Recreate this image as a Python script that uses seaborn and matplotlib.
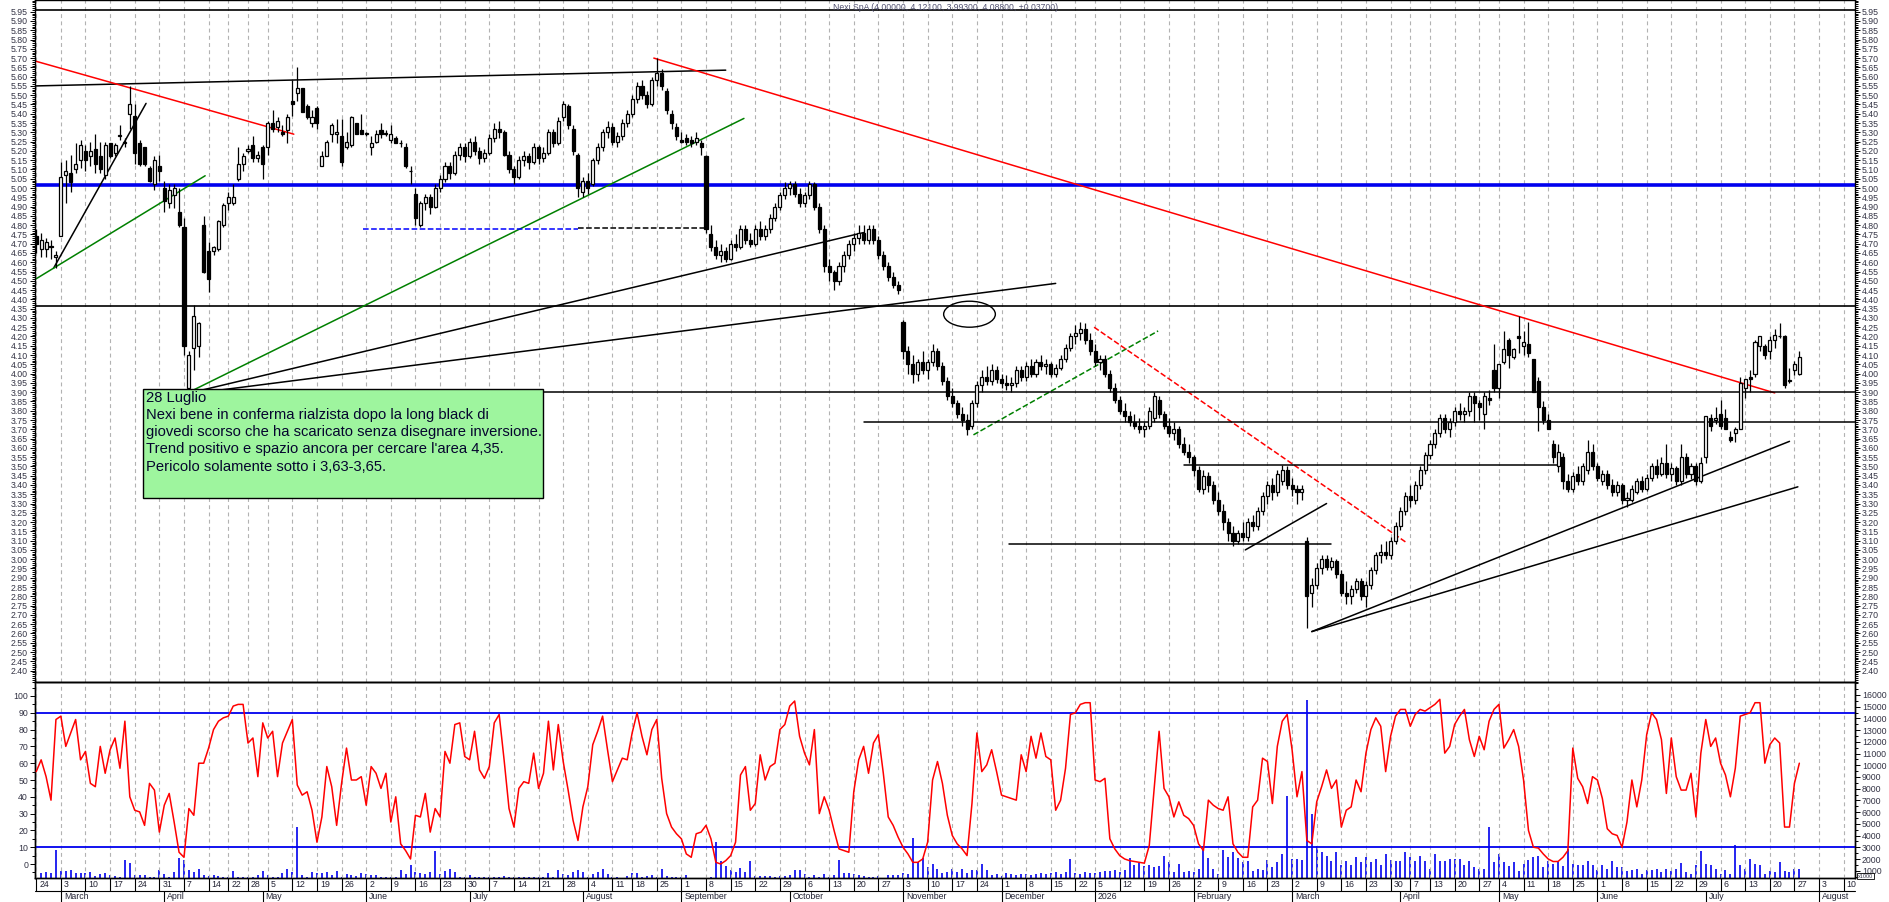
import numpy as np
import pandas as pd
import seaborn as sns
import matplotlib.pyplot as plt
import matplotlib.transforms as mtransforms
from matplotlib.patches import Rectangle, Ellipse
from matplotlib.ticker import FixedLocator, FormatStrFormatter

# Nexi SpA daily candles, 24 Feb 2025 -> 28 Jul 2026
opens = [
    4.74, 4.67, 4.67, 4.69, 4.63, 4.74, 5.07, 5.08, 5.10, 5.15,
    5.20, 5.17, 5.21, 5.17, 5.07, 5.24, 5.19, 5.28, 5.24, 5.40,
    5.39, 5.24, 5.22, 5.11, 5.02, 5.12, 5.00, 4.92, 4.96, 4.87,
    4.79, 3.92, 4.14, 4.15, 4.80, 4.66, 4.66, 4.67, 4.80, 4.92,
    4.92, 5.05, 5.13, 5.20, 5.23, 5.16, 5.22, 5.22, 5.35, 5.33,
    5.30, 5.31, 5.47, 5.51, 5.54, 5.44, 5.35, 5.43, 5.12, 5.17,
    5.29, 5.29, 5.28, 5.22, 5.23, 5.35, 5.31, 5.29, 5.22, 5.25,
    5.31, 5.29, 5.26, 5.27, 5.24, 5.22, 5.09, 4.97, 4.80, 4.92,
    4.95, 4.90, 5.00, 5.05, 5.12, 5.08, 5.18, 5.22, 5.17, 5.25,
    5.20, 5.16, 5.19, 5.27, 5.32, 5.30, 5.18, 5.10, 5.06, 5.15,
    5.17, 5.14, 5.22, 5.16, 5.19, 5.30, 5.24, 5.38, 5.44, 5.32,
    5.18, 4.98, 5.04, 5.02, 5.15, 5.22, 5.30, 5.33, 5.25, 5.28,
    5.35, 5.40, 5.48, 5.55, 5.50, 5.45, 5.58, 5.62, 5.52, 5.40,
    5.33, 5.26, 5.27, 5.26, 5.25, 5.24, 5.17, 4.75, 4.68, 4.64,
    4.66, 4.62, 4.70, 4.68, 4.78, 4.72, 4.70, 4.78, 4.74, 4.78,
    4.84, 4.90, 4.96, 5.00, 5.02, 4.97, 4.92, 4.96, 5.02, 4.90,
    4.78, 4.58, 4.55, 4.50, 4.58, 4.64, 4.70, 4.73, 4.76, 4.72,
    4.78, 4.72, 4.64, 4.58, 4.52, 4.48, 4.28, 4.12, 4.05, 4.00,
    4.06, 4.02, 4.06, 4.12, 4.04, 3.96, 3.88, 3.84, 3.78, 3.75,
    3.72, 3.84, 3.94, 3.98, 3.96, 4.02, 3.97, 3.95, 3.94, 3.95,
    4.02, 3.98, 4.04, 4.00, 4.06, 4.04, 4.05, 4.00, 4.03, 4.08,
    4.14, 4.20, 4.22, 4.24, 4.18, 4.12, 4.06, 4.08, 4.00, 3.92,
    3.86, 3.80, 3.77, 3.74, 3.72, 3.70, 3.72, 3.76, 3.86, 3.78,
    3.72, 3.68, 3.70, 3.62, 3.58, 3.55, 3.48, 3.38, 3.45, 3.40,
    3.32, 3.26, 3.20, 3.14, 3.10, 3.14, 3.12, 3.20, 3.18, 3.26,
    3.34, 3.40, 3.36, 3.42, 3.48, 3.40, 3.38, 3.36, 3.10, 2.82,
    2.86, 2.95, 3.00, 2.96, 2.99, 2.92, 2.82, 2.80, 2.84, 2.88,
    2.80, 2.86, 2.94, 3.02, 3.04, 3.02, 3.10, 3.18, 3.26, 3.34,
    3.32, 3.40, 3.48, 3.56, 3.62, 3.68, 3.76, 3.70, 3.74, 3.80,
    3.78, 3.80, 3.88, 3.84, 3.78, 3.87, 4.02, 3.92, 4.06, 4.18,
    4.09, 4.20, 4.15, 4.16, 4.08, 3.96, 3.82, 3.75, 3.62, 3.50,
    3.55, 3.42, 3.38, 3.46, 3.42, 3.48, 3.58, 3.50, 3.42, 3.46,
    3.40, 3.36, 3.40, 3.32, 3.32, 3.36, 3.42, 3.38, 3.44, 3.50,
    3.46, 3.52, 3.46, 3.49, 3.42, 3.55, 3.46, 3.50, 3.42, 3.55,
    3.76, 3.75, 3.78, 3.76, 3.66, 3.68, 3.70, 3.92, 3.98, 4.00,
    4.15, 4.15, 4.12, 4.18, 4.20, 4.20, 3.96, 4.02, 4.00,
]
highs = [
    4.78, 4.76, 4.73, 4.72, 4.66, 5.14, 5.15, 5.18, 5.24, 5.26,
    5.23, 5.25, 5.29, 5.25, 5.25, 5.24, 5.24, 5.34, 5.27, 5.55,
    5.45, 5.26, 5.22, 5.12, 5.17, 5.18, 5.04, 5.02, 5.02, 5.00,
    4.84, 4.12, 4.37, 4.28, 4.85, 4.71, 4.69, 4.83, 4.92, 4.98,
    5.02, 5.22, 5.19, 5.23, 5.28, 5.20, 5.23, 5.36, 5.42, 5.38,
    5.34, 5.40, 5.58, 5.65, 5.54, 5.45, 5.42, 5.44, 5.20, 5.26,
    5.35, 5.37, 5.37, 5.30, 5.39, 5.35, 5.40, 5.30, 5.28, 5.31,
    5.35, 5.31, 5.34, 5.28, 5.26, 5.24, 5.12, 5.00, 4.93, 4.97,
    4.97, 5.02, 5.07, 5.14, 5.14, 5.20, 5.24, 5.24, 5.27, 5.28,
    5.22, 5.21, 5.29, 5.35, 5.36, 5.31, 5.20, 5.12, 5.17, 5.20,
    5.19, 5.24, 5.23, 5.22, 5.32, 5.32, 5.38, 5.47, 5.45, 5.34,
    5.19, 5.06, 5.08, 5.16, 5.24, 5.32, 5.36, 5.35, 5.30, 5.37,
    5.42, 5.50, 5.57, 5.58, 5.52, 5.60, 5.70, 5.64, 5.54, 5.42,
    5.35, 5.30, 5.29, 5.28, 5.30, 5.26, 5.18, 4.80, 4.72, 4.70,
    4.68, 4.72, 4.75, 4.80, 4.80, 4.76, 4.80, 4.82, 4.80, 4.86,
    4.92, 4.98, 5.03, 5.04, 5.04, 5.00, 4.98, 5.04, 5.03, 4.92,
    4.80, 4.62, 4.56, 4.60, 4.66, 4.72, 4.76, 4.80, 4.80, 4.80,
    4.80, 4.74, 4.66, 4.60, 4.55, 4.50, 4.29, 4.15, 4.10, 4.08,
    4.12, 4.08, 4.16, 4.14, 4.06, 3.98, 3.92, 3.86, 3.82, 3.78,
    3.86, 3.96, 4.02, 4.04, 4.05, 4.04, 4.00, 3.99, 3.98, 4.04,
    4.04, 4.06, 4.08, 4.08, 4.10, 4.08, 4.06, 4.05, 4.10, 4.16,
    4.22, 4.26, 4.28, 4.27, 4.22, 4.16, 4.10, 4.10, 4.02, 3.95,
    3.88, 3.84, 3.80, 3.78, 3.76, 3.74, 3.82, 3.90, 3.88, 3.80,
    3.76, 3.74, 3.72, 3.66, 3.62, 3.56, 3.50, 3.48, 3.47, 3.42,
    3.36, 3.30, 3.22, 3.18, 3.16, 3.20, 3.22, 3.24, 3.28, 3.36,
    3.42, 3.44, 3.48, 3.51, 3.50, 3.44, 3.40, 3.40, 3.12, 2.90,
    2.98, 3.02, 3.02, 3.01, 3.00, 2.94, 2.88, 2.86, 2.90, 2.90,
    2.88, 2.96, 3.04, 3.08, 3.10, 3.12, 3.20, 3.28, 3.36, 3.40,
    3.42, 3.50, 3.58, 3.64, 3.70, 3.78, 3.78, 3.76, 3.82, 3.84,
    3.82, 3.90, 3.90, 3.86, 3.90, 3.91, 4.16, 4.05, 4.23, 4.19,
    4.14, 4.31, 4.23, 4.28, 4.08, 3.98, 3.85, 3.78, 3.64, 3.62,
    3.57, 3.46, 3.47, 3.50, 3.52, 3.64, 3.62, 3.52, 3.48, 3.48,
    3.43, 3.42, 3.41, 3.36, 3.40, 3.44, 3.45, 3.46, 3.52, 3.54,
    3.55, 3.62, 3.52, 3.50, 3.62, 3.57, 3.52, 3.52, 3.55, 3.77,
    3.78, 3.82, 3.86, 3.81, 3.69, 3.71, 3.98, 3.97, 4.02, 4.18,
    4.20, 4.16, 4.20, 4.24, 4.27, 4.21, 4.03, 4.07, 4.121,
]
lows = [
    4.65, 4.63, 4.63, 4.62, 4.57, 4.74, 4.92, 4.98, 5.08, 5.11,
    5.09, 5.12, 5.08, 5.08, 5.05, 5.16, 5.17, 5.26, 5.22, 5.32,
    5.13, 5.12, 5.12, 5.03, 4.99, 5.04, 4.87, 4.89, 4.89, 4.79,
    4.10, 3.89, 4.02, 4.09, 4.54, 4.44, 4.64, 4.66, 4.79, 4.88,
    4.91, 5.04, 5.09, 5.19, 5.14, 5.14, 5.05, 5.18, 5.30, 5.30,
    5.28, 5.24, 5.39, 5.47, 5.41, 5.37, 5.33, 5.32, 5.12, 5.17,
    5.25, 5.24, 5.12, 5.21, 5.22, 5.29, 5.29, 5.28, 5.18, 5.24,
    5.27, 5.28, 5.24, 5.24, 5.22, 5.11, 5.02, 4.80, 4.79, 4.88,
    4.86, 4.89, 4.98, 5.03, 5.05, 5.07, 5.15, 5.14, 5.16, 5.18,
    5.13, 5.14, 5.18, 5.25, 5.27, 5.17, 5.08, 5.02, 5.05, 5.12,
    5.10, 5.13, 5.13, 5.14, 5.18, 5.22, 5.23, 5.36, 5.32, 5.18,
    4.95, 4.95, 4.97, 5.01, 5.13, 5.20, 5.27, 5.23, 5.22, 5.26,
    5.33, 5.38, 5.46, 5.48, 5.43, 5.44, 5.55, 5.53, 5.40, 5.32,
    5.26, 5.24, 5.23, 5.22, 5.23, 5.18, 4.76, 4.66, 4.62, 4.60,
    4.60, 4.61, 4.66, 4.67, 4.70, 4.68, 4.69, 4.72, 4.72, 4.76,
    4.82, 4.88, 4.94, 4.96, 4.95, 4.90, 4.90, 4.94, 4.88, 4.76,
    4.55, 4.50, 4.45, 4.48, 4.55, 4.62, 4.66, 4.70, 4.70, 4.70,
    4.70, 4.62, 4.56, 4.50, 4.46, 4.43, 4.08, 4.00, 3.95, 3.96,
    4.00, 3.97, 4.04, 4.02, 3.94, 3.86, 3.82, 3.76, 3.72, 3.67,
    3.70, 3.82, 3.90, 3.94, 3.94, 3.95, 3.92, 3.91, 3.90, 3.93,
    3.96, 3.96, 3.98, 3.98, 4.02, 4.00, 3.98, 3.98, 4.02, 4.06,
    4.12, 4.16, 4.18, 4.16, 4.10, 4.04, 4.02, 3.98, 3.90, 3.84,
    3.78, 3.74, 3.72, 3.70, 3.68, 3.66, 3.70, 3.74, 3.76, 3.70,
    3.66, 3.64, 3.60, 3.56, 3.52, 3.45, 3.36, 3.35, 3.36, 3.30,
    3.24, 3.16, 3.10, 3.07, 3.08, 3.10, 3.10, 3.15, 3.16, 3.24,
    3.30, 3.32, 3.34, 3.40, 3.38, 3.34, 3.30, 3.32, 2.63, 2.74,
    2.84, 2.92, 2.94, 2.94, 2.90, 2.80, 2.76, 2.76, 2.82, 2.78,
    2.74, 2.84, 2.92, 2.98, 3.00, 3.00, 3.08, 3.16, 3.24, 3.28,
    3.30, 3.38, 3.46, 3.54, 3.60, 3.66, 3.68, 3.66, 3.72, 3.75,
    3.74, 3.77, 3.74, 3.75, 3.70, 3.83, 3.90, 3.87, 4.05, 4.03,
    4.08, 4.11, 4.10, 4.09, 3.90, 3.69, 3.73, 3.70, 3.52, 3.47,
    3.38, 3.36, 3.36, 3.40, 3.40, 3.46, 3.48, 3.42, 3.40, 3.38,
    3.34, 3.34, 3.30, 3.28, 3.31, 3.35, 3.36, 3.37, 3.42, 3.44,
    3.45, 3.44, 3.42, 3.40, 3.40, 3.44, 3.43, 3.40, 3.41, 3.52,
    3.69, 3.73, 3.70, 3.70, 3.63, 3.63, 3.70, 3.87, 3.90, 3.98,
    4.12, 4.08, 4.08, 4.14, 4.19, 3.92, 3.95, 3.99, 3.993,
]
closes = [
    4.70, 4.72, 4.71, 4.68, 4.64, 5.06, 5.09, 5.03, 5.13, 5.23,
    5.15, 5.20, 5.13, 5.10, 5.23, 5.17, 5.23, 5.28, 5.25, 5.45,
    5.19, 5.13, 5.13, 5.04, 5.15, 5.09, 4.93, 4.99, 5.00, 4.80,
    4.15, 4.10, 4.31, 4.27, 4.55, 4.51, 4.68, 4.82, 4.91, 4.95,
    4.95, 5.13, 5.17, 5.21, 5.16, 5.18, 5.13, 5.35, 5.32, 5.36,
    5.29, 5.38, 5.45, 5.54, 5.41, 5.38, 5.38, 5.35, 5.17, 5.25,
    5.34, 5.30, 5.14, 5.25, 5.38, 5.29, 5.29, 5.29, 5.24, 5.29,
    5.29, 5.29, 5.29, 5.24, 5.24, 5.12, 5.09, 4.84, 4.92, 4.95,
    4.90, 5.00, 5.05, 5.12, 5.08, 5.18, 5.22, 5.17, 5.25, 5.20,
    5.16, 5.19, 5.27, 5.32, 5.30, 5.18, 5.10, 5.06, 5.15, 5.17,
    5.14, 5.22, 5.16, 5.19, 5.30, 5.24, 5.36, 5.45, 5.34, 5.20,
    5.00, 5.04, 5.00, 5.15, 5.22, 5.30, 5.33, 5.25, 5.28, 5.35,
    5.40, 5.48, 5.55, 5.50, 5.45, 5.58, 5.62, 5.55, 5.42, 5.35,
    5.28, 5.25, 5.25, 5.24, 5.27, 5.22, 4.78, 4.68, 4.64, 4.66,
    4.62, 4.70, 4.68, 4.78, 4.72, 4.70, 4.78, 4.74, 4.78, 4.84,
    4.90, 4.96, 5.00, 5.02, 4.97, 4.92, 4.96, 5.02, 4.90, 4.78,
    4.58, 4.55, 4.50, 4.58, 4.64, 4.70, 4.73, 4.76, 4.72, 4.78,
    4.72, 4.64, 4.58, 4.52, 4.48, 4.45, 4.12, 4.05, 4.00, 4.06,
    4.02, 4.06, 4.12, 4.04, 3.96, 3.88, 3.84, 3.78, 3.75, 3.70,
    3.84, 3.94, 3.98, 3.96, 4.02, 3.97, 3.95, 3.94, 3.95, 4.02,
    3.98, 4.04, 4.00, 4.06, 4.04, 4.05, 4.00, 4.03, 4.08, 4.14,
    4.20, 4.22, 4.24, 4.18, 4.12, 4.06, 4.08, 4.00, 3.92, 3.86,
    3.80, 3.77, 3.74, 3.72, 3.70, 3.72, 3.80, 3.88, 3.78, 3.72,
    3.68, 3.70, 3.62, 3.58, 3.55, 3.48, 3.38, 3.45, 3.40, 3.32,
    3.26, 3.20, 3.14, 3.10, 3.14, 3.12, 3.20, 3.18, 3.26, 3.34,
    3.40, 3.36, 3.46, 3.48, 3.40, 3.38, 3.36, 3.38, 2.80, 2.86,
    2.95, 3.00, 2.96, 2.99, 2.92, 2.82, 2.80, 2.84, 2.88, 2.80,
    2.86, 2.94, 3.02, 3.04, 3.02, 3.10, 3.18, 3.26, 3.34, 3.32,
    3.40, 3.48, 3.56, 3.62, 3.68, 3.76, 3.70, 3.74, 3.80, 3.78,
    3.80, 3.88, 3.84, 3.82, 3.88, 3.86, 3.92, 4.05, 4.13, 4.10,
    4.13, 4.19, 4.17, 4.11, 3.90, 3.82, 3.75, 3.70, 3.55, 3.58,
    3.42, 3.38, 3.45, 3.42, 3.50, 3.58, 3.50, 3.44, 3.46, 3.40,
    3.36, 3.40, 3.32, 3.33, 3.38, 3.42, 3.38, 3.44, 3.50, 3.46,
    3.52, 3.46, 3.49, 3.42, 3.55, 3.46, 3.50, 3.42, 3.52, 3.77,
    3.72, 3.76, 3.72, 3.70, 3.64, 3.70, 3.95, 3.97, 3.97, 4.17,
    4.20, 4.10, 4.18, 4.21, 4.20, 3.94, 3.96, 4.05, 4.088,
]

# lower panel: oscillator (left scale 0-100)
osc = [
    55, 62, 52, 38, 86, 88, 70, 78, 86, 62,
    67, 48, 46, 70, 54, 68, 75, 57, 85, 40,
    32, 31, 23, 48, 44, 19, 35, 42, 25, 7,
    4, 33, 29, 60, 60, 69, 80, 85, 87, 88,
    94, 95, 95, 72, 75, 52, 84, 75, 79, 52,
    72, 79, 86, 47, 41, 43, 32, 13, 28, 58,
    46, 23, 48, 69, 50, 50, 52, 35, 58, 54,
    45, 54, 25, 40, 12, 8, 3, 29, 28, 42,
    19, 33, 28, 67, 60, 83, 84, 64, 62, 79,
    56, 51, 58, 84, 89, 62, 33, 22, 45, 49,
    48, 66, 45, 54, 85, 56, 83, 61, 44, 26,
    14, 34, 46, 71, 79, 88, 68, 49, 56, 63,
    62, 78, 90, 76, 65, 80, 86, 51, 30, 22,
    18, 15, 6, 4, 18, 19, 23, 15, 1, 0,
    2, 5, 13, 53, 58, 32, 36, 65, 50, 58,
    60, 80, 83, 94, 97, 76, 66, 59, 80, 30,
    40, 32, 20, 9, 8, 7, 43, 62, 70, 54,
    72, 77, 54, 28, 23, 16, 10, 6, 1, 1,
    3, 13, 50, 61, 48, 29, 17, 12, 9, 5,
    36, 78, 55, 59, 68, 55, 41, 40, 39, 38,
    65, 55, 76, 63, 78, 64, 62, 32, 38, 57,
    89, 90, 95, 96, 96, 50, 49, 51, 15, 9,
    5, 3, 2, 1.5, 1, 0.5, 11, 45, 79, 45,
    40, 28, 37, 29, 27, 23, 12, 8, 38, 35,
    33, 32, 40, 12, 7, 4, 4, 34, 38, 63,
    61, 36, 70, 85, 89, 68, 40, 55, 14, 12,
    37, 46, 56, 45, 50, 22, 32, 34, 50, 43,
    66, 80, 87, 82, 55, 76, 88, 92, 92, 82,
    89, 92, 91, 93, 95, 98, 66, 70, 83, 88,
    92, 74, 64, 76, 68, 85, 92, 95, 69, 74,
    80, 70, 50, 20, 10, 9.5, 6, 3, 1.5, 1.5,
    4, 8, 69, 51, 46, 36, 52, 50, 39, 21,
    18, 17, 10, 25, 50, 34, 50, 77, 90, 86,
    74, 42, 75, 52, 44, 44, 54, 28, 66, 86,
    70, 75, 60, 53, 40, 57, 88, 89, 90, 96,
    96, 60, 71, 75, 72, 22, 22, 48, 60,
]
# volume (right scale, x1000)
volume = [
    500, 770, 910, 770, 2800, 1000, 950, 1050, 770, 770,
    770, 910, 550, 700, 770, 640, 550, 490, 1900, 1670,
    640, 640, 600, 500, 490, 1050, 730, 500, 910, 2100,
    1900, 1050, 910, 1190, 640, 550, 600, 550, 450, 490,
    950, 500, 450, 490, 490, 640, 950, 640, 450, 490,
    820, 1190, 860, 4770, 640, 470, 860, 770, 770, 860,
    640, 950, 500, 700, 640, 550, 770, 730, 600, 640,
    470, 500, 450, 500, 1050, 700, 1530, 860, 770, 730,
    910, 2660, 700, 950, 1120, 910, 500, 470, 600, 450,
    470, 470, 490, 500, 500, 550, 470, 470, 470, 500,
    470, 490, 450, 490, 770, 490, 1050, 700, 600, 860,
    1050, 860, 490, 700, 910, 1120, 700, 500, 450, 400,
    520, 800, 800, 490, 520, 600, 490, 1130, 520, 460,
    460, 450, 600, 420, 420, 420, 380, 460, 3420, 1850,
    1430, 1090, 918, 1200, 918, 1850, 520, 550, 520, 520,
    460, 520, 520, 600, 1090, 1090, 740, 460, 600, 460,
    740, 460, 600, 1935, 800, 800, 740, 600, 520, 460,
    460, 520, 420, 600, 600, 600, 800, 690, 3760, 1710,
    2050, 1290, 1570, 1150, 800, 880, 1160, 880, 1160, 800,
    1100, 1100, 1600, 1100, 600, 740, 520, 800, 740, 600,
    740, 740, 650, 740, 800, 740, 830, 880, 690, 880,
    2000, 800, 740, 880, 800, 800, 880, 1020, 1020, 1070,
    880, 1070, 2080, 1450, 1650, 1370, 1450, 1310, 1370, 2220,
    1730, 880, 1590, 880, 1020, 880, 1160, 2800, 2080, 1160,
    740, 2800, 2160, 2570, 2060, 1780, 1830, 1020, 1160, 1100,
    1950, 1310, 1730, 2440, 7380, 2010, 2010, 1950, 15550, 5860,
    3130, 2580, 2300, 1870, 2580, 1450, 1870, 1450, 2160, 1730,
    2160, 1730, 2010, 1450, 2440, 1950, 1870, 1870, 2580, 2160,
    1870, 2300, 1870, 1160, 2440, 1870, 1870, 2010, 2010, 2010,
    1450, 1870, 1310, 1160, 1160, 4730, 1730, 2440, 1730, 1370,
    1730, 960, 1590, 1950, 2160, 2300, 1310, 1870, 1590, 1730,
    1370, 2880, 1590, 1450, 1450, 1870, 1450, 1070, 1450, 1160,
    1870, 1310, 1310, 960, 1070, 1160, 740, 1070, 1070, 1160,
    880, 1160, 1020, 1160, 1650, 880, 740, 1450, 2650, 1590,
    1450, 1160, 740, 1070, 740, 3210, 1450, 1160, 2010, 1590,
    1450, 740, 1020, 880, 1730, 1020, 880, 1160, 1160,
]

title = "Nexi SpA (4.00000, 4.12100, 3.99300, 4.08800, +0.03700)"
note = ("28 Luglio\n"
        "Nexi bene in conferma rialzista dopo la long black di\n"
        "giovedi scorso che ha scaricato senza disegnare inversione.\n"
        "Trend positivo e spazio ancora per cercare l'area 4,35.\n"
        "Pericolo solamente sotto i 3,63-3,65.")

closed_days = ['2025-04-18', '2025-04-21', '2025-05-01', '2025-08-15',
               '2025-12-24', '2025-12-25', '2025-12-26', '2025-12-31',
               '2026-01-01', '2026-01-02', '2026-04-03', '2026-04-06',
               '2026-05-01']
month_names = ['2026', 'February', 'March', 'April', 'May', 'June', 'July',
               'August', 'September', 'October', 'November', 'December']

# drawn studies: (x0, y0, x1, y1, colour, style)  x in trading-day index
studies = [
    (-0.2, 5.55, 140.0, 5.635, 'black', '-'),
    (-0.2, 5.684, 52.3, 5.29, 'red', '-'),
    (3.5, 4.567, 22.3, 5.456, 'black', '-'),
    (-0.2, 4.508, 34.3, 5.066, 'green', '-'),
    (29.5, 3.88, 143.7, 5.375, 'green', '-'),
    (29.5, 3.885, 168.0, 4.76, 'black', '-'),
    (29.5, 3.885, 207.0, 4.486, 'black', '-'),
    (66.3, 4.777, 110.0, 4.777, 'blue', '--'),
    (110.0, 4.785, 136.0, 4.785, 'black', '--'),
    (125.4, 5.70, 353.0, 3.896, 'red', '-'),
    (190.3, 3.67, 227.8, 4.23, 'green', '--'),
    (214.8, 4.25, 278.2, 3.09, 'red', '--'),
    (245.5, 3.05, 262.0, 3.30, 'black', '-'),
    (259.0, 2.61, 356.0, 3.635, 'black', '-'),
    (259.0, 2.61, 357.7, 3.39, 'black', '-'),
    (29.5, 3.902, 369.5, 3.902, 'black', '-'),
    (168.0, 3.741, 369.5, 3.741, 'black', '-'),
    (233.0, 3.51, 309.0, 3.51, 'black', '-'),
    (197.6, 3.08, 263.0, 3.08, 'black', '-'),
]

sns.set_theme(style='white')
plt.rcParams['font.family'] = ['Liberation Sans', 'DejaVu Sans']

days = pd.bdate_range('2025-02-24', '2026-09-30')
days = days[~days.isin(pd.to_datetime(closed_days))]

o = np.array(opens)
h = np.array(highs)
l = np.array(lows)
c = np.array(closes)
n = len(c)
x = np.arange(n)

W, H = 1890, 902
fig = plt.figure(figsize=(W / 100, H / 100), dpi=100)
fig.patch.set_facecolor('white')
xa, xb = 35 / W, 1855 / W
ax = fig.add_axes([xa, 1 - 681.7 / H, xb - xa, 681.7 / H])
ax2 = fig.add_axes([xa, 1 - 878.3 / H, xb - xa, (878.3 - 681.7) / H])
ax3 = ax2.twinx()
ax2.set_zorder(ax3.get_zorder() + 1)
ax2.patch.set_visible(False)

xmin, xmax = -0.25, 369.3
for a in (ax, ax2, ax3):
    a.set_xlim(xmin, xmax)
    for s in a.spines.values():
        s.set_color('black')
        s.set_linewidth(1.0)
ax.set_ylim(2.340, 6.013)
ax2.set_ylim(-8.5, 108.5)
ax3.set_ylim(355, 17130)

# week grid and date rows
trans = mtransforms.blended_transform_factory(ax2.transData, ax2.transAxes)
row1 = -(890.5 - 878.3) / 196.6
row2 = -(902.0 - 878.3) / 196.6
ax2.plot([0, 1], [row1, row1], transform=ax2.transAxes, color='black',
         lw=0.8, clip_on=False)
date_font = dict(fontsize=6.3, color='#222233',
                 family=['Liberation Sans Narrow', 'Liberation Sans', 'DejaVu Sans'])
span = int(np.floor(xmax)) + 1
cal = days[:span]
last = -10
for i, d in enumerate(cal):
    new_week = i == 0 or d.isocalendar()[1] != cal[i - 1].isocalendar()[1]
    if new_week and i - last >= 3:
        last = i
        for a in (ax, ax2):
            a.axvline(i, color='#b2b2b2', lw=0.8, ls=(0, (3.5, 3)), zorder=0)
        ax2.plot([i, i], [0, row1], transform=trans, color='black', lw=0.8,
                 clip_on=False)
        ax2.text(i + 0.6, row1 / 2, str(d.day), transform=trans,
                 ha='left', va='center', **date_font)
    if i > 0 and d.month != cal[i - 1].month:
        ax2.plot([i, i], [row1, row2], transform=trans, color='black', lw=0.8,
                 clip_on=False)
        ax2.text(i + 0.6, (row1 + row2) / 2, month_names[d.month - 1],
                 transform=trans, ha='left', va='center', **date_font)

# horizontal levels across the whole chart
ax.axhline(5.96, color='black', lw=1.2, zorder=2)
ax.axhline(5.016, color='#0000ee', lw=2.6, zorder=2)
ax.axhline(4.364, color='black', lw=1.2, zorder=2)

for x0, y0, x1, y1, col, ls in studies:
    ax.plot([x0, x1], [y0, y1], color=col, lw=1.1, ls=ls, zorder=2)
ax.add_patch(Ellipse((189.5, 4.32), 10.5, 0.14, fill=False,
                     edgecolor='black', lw=1.0, zorder=2))

# candles
up = c >= o
ax.vlines(x, l, h, color='black', lw=0.9, zorder=3)
body_lo = np.minimum(o, c)
body_h = np.maximum(np.abs(c - o), 0.004)
ax.bar(x[up], body_h[up], bottom=body_lo[up], width=0.62, facecolor='white',
       edgecolor='black', lw=0.9, zorder=4)
ax.bar(x[~up], body_h[~up], bottom=body_lo[~up], width=0.62,
       facecolor='black', edgecolor='black', lw=0.9, zorder=4)

# comment box
ax.add_patch(Rectangle((21.6, 3.332), 81.4, 0.585, facecolor='#9ef59e',
                       edgecolor='black', lw=1.0, zorder=6))
ax.text(22.3, 3.905, note, ha='left', va='top', fontsize=10.6,
        linespacing=1.28, color='#05052e', zorder=7)

# price axis, labels on both sides
ax.yaxis.set_major_locator(FixedLocator(np.round(np.arange(2.40, 5.951, 0.05), 2)))
ax.yaxis.set_minor_locator(FixedLocator(np.round(np.arange(2.34, 6.013, 0.01), 2)))
ax.yaxis.set_major_formatter(FormatStrFormatter('%.2f'))
ax.tick_params(axis='y', which='both', left=True, right=True, labelleft=True,
               labelright=True, labelsize=6.3, labelcolor='#333344',
               color='black', width=0.7, pad=1.5)
ax.tick_params(axis='y', which='major', length=3.5)
ax.tick_params(axis='y', which='minor', length=2)
ax.tick_params(axis='x', bottom=False, labelbottom=False)

# oscillator and volume
sns.lineplot(x=np.arange(len(osc)), y=osc, ax=ax2, color='red', lw=1.1,
             zorder=3)
ax2.axhline(90, color='#0000ee', lw=1.3, zorder=2)
ax2.axhline(10, color='#0000ee', lw=1.3, zorder=2)
ax3.vlines(np.arange(len(volume)), 0, volume, color='#0000ee', lw=1.2)

ax2.yaxis.set_major_locator(FixedLocator(range(0, 101, 10)))
ax2.yaxis.set_minor_locator(FixedLocator(range(-5, 106, 5)))
ax3.yaxis.set_major_locator(FixedLocator(range(1000, 16001, 1000)))
ax3.yaxis.set_minor_locator(FixedLocator(range(500, 17001, 500)))
for a in (ax2, ax3):
    a.tick_params(axis='y', which='both', labelsize=6.3, labelcolor='#333344',
                  color='black', width=0.7, pad=1.5)
    a.tick_params(axis='y', which='major', length=3.5)
    a.tick_params(axis='y', which='minor', length=2)
    a.tick_params(axis='x', bottom=False, labelbottom=False)
    a.set_xlabel('')
    a.set_ylabel('')
ax2.tick_params(axis='y', left=True, right=False)
ax3.tick_params(axis='y', left=False, right=True)

fig.text(833 / W, 1 - 7 / H, title, fontsize=6.2, color='#505070',
         ha='left', va='center')
fig.text(1858 / W, 1 - 876 / H, 'x1000', fontsize=4, color='#333344',
         ha='left', va='center',
         bbox=dict(facecolor='white', edgecolor='black', lw=0.6, pad=0.6))

fig.savefig('out.png', dpi=100)
